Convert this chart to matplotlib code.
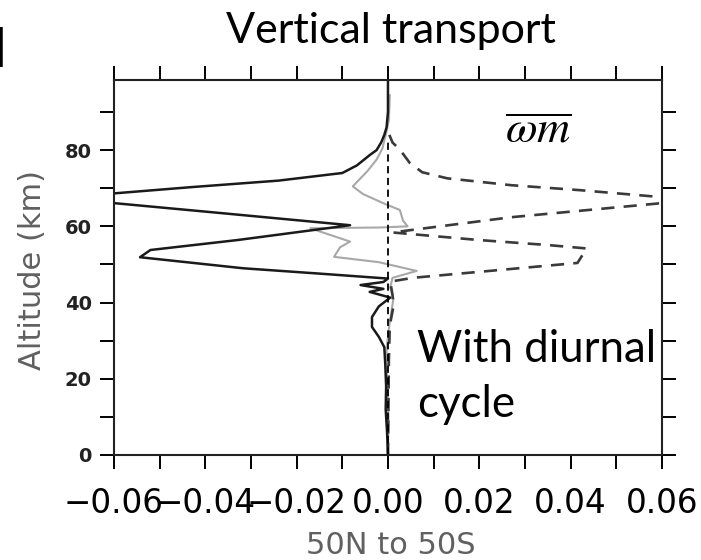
import matplotlib
matplotlib.use('Agg')
import matplotlib.pyplot as plt

# solid black profile (x value, altitude in km)
black_x = [0, 0, -0.0003, -0.0008, -0.0015, -0.0025, -0.004, -0.0068, -0.01, -0.024,
           -0.043, -0.0595, -0.072, -0.06, -0.0367, -0.0083, -0.033, -0.052, -0.0543,
           -0.0317, -0.015, 0.0, -0.001, -0.006, -0.001, -0.004, 0.0005, -0.002,
           -0.0035, -0.0035, -0.002, -0.0008, -0.0006, -0.0004, -0.0005, -0.0002, 0]
black_alt = [98.4, 90, 86, 84, 82, 80, 78.7, 76, 74, 72,
             70.3, 68.7, 67.4, 66.1, 63.5, 60.3, 56.4, 53.8, 51.9,
             49.0, 47.6, 46.3, 45.4, 44.6, 43.6, 42.8, 41.3, 39.0,
             36.2, 33.6, 31.0, 28.3, 24, 18, 12, 6, 0]

# solid grey profile
grey_x = [0.0004, 0.0002, -0.0003, -0.0012, -0.0025, -0.0045, -0.0077, -0.0055,
          -0.0005, 0.0026, 0.0033, 0.0043, -0.0017, -0.017, -0.0083, -0.0105,
          -0.0118, -0.002, 0.0063, 0.001, 0.0005, 0.0012, 0.0008, 0.0003,
          -0.0003, -0.0002, 0.0001, 0]
grey_alt = [94.4, 88, 85, 80.5, 77.5, 74.5, 70.5, 68.5,
            65.8, 64.3, 61.5, 60.0, 59.7, 59.5, 56.0, 54.5,
            52.0, 50.6, 48.3, 46.5, 44, 41, 38, 34,
            28, 20, 10, 0]

# dashed profile
dash_x = [0.0003, 0.001, 0.0027, 0.0048, 0.0075, 0.013, 0.027, 0.042, 0.0596, 0.062,
          0.06, 0.027, 0.0055, 0.001, 0.020, 0.035, 0.0435, 0.0415, 0.024, 0.0055,
          0.0005, 0.001, 0.0012, 0.0004, 0.0002, 0.0001, 0]
dash_alt = [84, 82, 80, 76.6, 74.2, 72.6, 70.8, 69.5, 67.7, 67.0,
            66.1, 62.4, 59.1, 58.4, 56.4, 55.1, 54.2, 50.4, 48.5, 46.5,
            45.5, 42, 39, 34, 25, 12, 0]

zero_line_top = 83

xticks = [-0.06, -0.05, -0.04, -0.03, -0.02, -0.01, 0.0, 0.01, 0.02, 0.03, 0.04, 0.05, 0.06]
xtick_labels = ['\u22120.06', '', '\u22120.04', '', '\u22120.02', '', '0.00', '', '0.02', '', '0.04', '', '0.06']
yticks = [0, 10, 20, 30, 40, 50, 60, 70, 80, 90]
ytick_labels = ['0', '', '20', '', '40', '', '60', '', '80', '']

fig = plt.figure(figsize=(7.01, 5.6), dpi=100)
ax = fig.add_axes([0.1626, 0.1875, 0.7817, 0.6696])

ax.plot(grey_x, grey_alt, color='#a8a8a8', lw=1.5)
ax.plot(dash_x, dash_alt, color='#3a3a3a', lw=1.9, ls=(0, (5, 3.5)))
ax.plot(black_x, black_alt, color='#1a1a1a', lw=1.8)
ax.axvline(0, ymin=0, ymax=zero_line_top / 98.4, color='black', lw=1.3, ls=(0, (4, 2.5)))

ax.set_xlim(-0.06, 0.06)
ax.set_ylim(0, 98.4)

ax.set_xticks(xticks)
ax.set_xticklabels(xtick_labels, fontsize=23.5, family='DejaVu Sans')
ax.set_yticks(yticks)
ax.set_yticklabels(ytick_labels, fontsize=14, weight='bold', color='#222222')

ax.tick_params(direction='out', top=True, right=True, length=10, width=1.4)
ax.tick_params(axis='x', pad=13)
ax.tick_params(axis='y', pad=6)
for s in ax.spines.values():
    s.set_linewidth(1.5)
    s.set_color('#222222')

fig.text(0.046, 0.518, 'Altitude (km)', rotation=90, ha='center', va='center',
         fontsize=22, color='#606060', family='DejaVu Sans')
fig.text(0.558, 0.011, '50N to 50S', ha='center', va='baseline',
         fontsize=22, color='#606060', family='DejaVu Sans')

fig.text(0.558, 0.923, 'Vertical transport', ha='center', va='baseline',
         fontsize=31, family='Lato')
fig.text(0.595, 0.3536, 'With diurnal', ha='left', va='baseline', fontsize=31.5, family='Lato')
fig.text(0.595, 0.2554, 'cycle', ha='left', va='baseline', fontsize=31.5, family='Lato')
fig.text(0.768, 0.745, r'$\overline{\omega m}$', ha='center', va='baseline', fontsize=33,
         math_fontfamily='stix')
fig.text(0.008, 0.880, 'l', ha='right', va='baseline', fontsize=38, family='Lato', weight='bold')

fig.savefig('out.png', dpi=100)
